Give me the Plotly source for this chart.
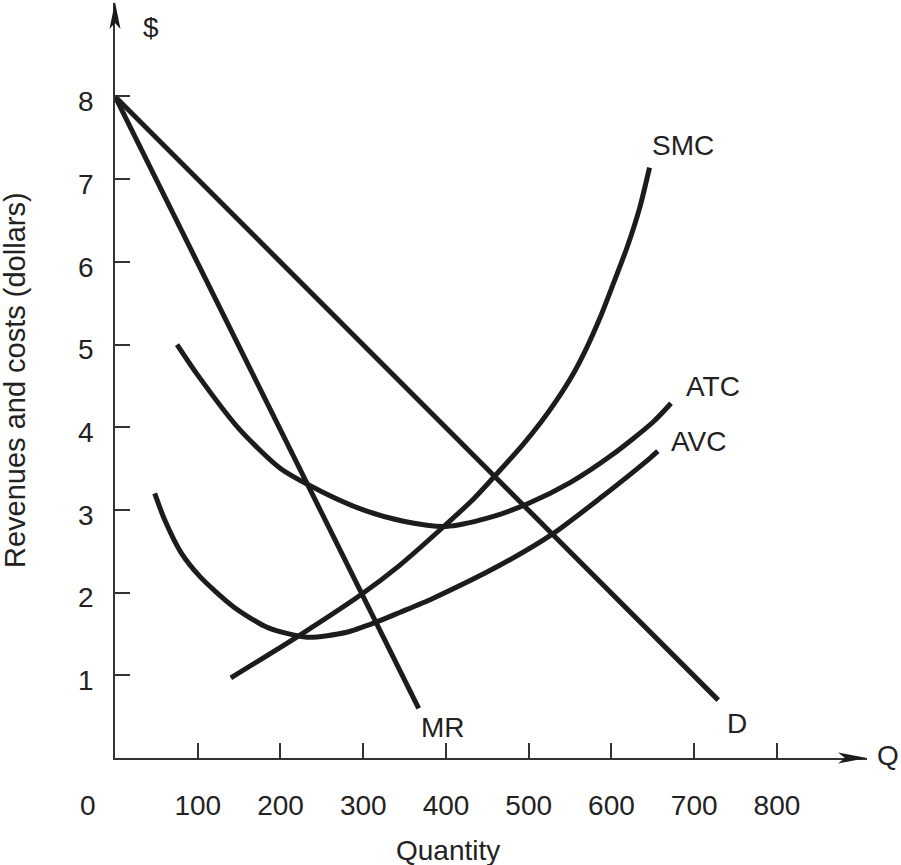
import plotly.graph_objects as go

# ---- data ----
q_D = [0, 729]
p_D = [8.0, 0.70]

q_MR = [0, 367]
p_MR = [8.0, 0.60]

q_SMC = [140, 224, 298, 344, 393, 433, 459, 493, 514, 534, 554, 570, 586, 602, 619, 634, 646]
p_SMC = [0.97, 1.49, 1.98, 2.33, 2.76, 3.13, 3.41, 3.79, 4.05, 4.33, 4.65, 4.96, 5.32, 5.73, 6.18, 6.65, 7.14]

q_ATC = [75, 100, 150, 200, 250, 300, 350, 400, 450, 500, 550, 600, 650, 672]
p_ATC = [5.00, 4.63, 3.98, 3.50, 3.22, 3.00, 2.86, 2.80, 2.90, 3.08, 3.33, 3.66, 4.06, 4.29]

q_AVC = [48, 60, 80, 103, 143, 184, 232, 280, 315, 344, 384, 465, 529, 586, 647, 656]
p_AVC = [3.20, 2.88, 2.48, 2.19, 1.83, 1.58, 1.46, 1.52, 1.64, 1.76, 1.93, 2.33, 2.71, 3.14, 3.63, 3.71]

x_ticks = [100, 200, 300, 400, 500, 600, 700, 800]
y_ticks = [1, 2, 3, 4, 5, 6, 7, 8]

curve_labels = ["SMC", "ATC", "AVC", "MR", "D"]
label_q = [686, 723, 706, 396, 752]
label_p = [7.41, 4.49, 3.83, 0.37, 0.42]

# ---- geometry of the plotting area (pixels) ----
W, H = 901, 865
L, R, T, B = 115, 34, 3, 107
PW, PH = W - L - R, H - T - B
X_MAX = 908.8
Y_MAX = 9.13

def px_x(px):
    return (px - L) / PW

def px_y(py):
    return (H - B - py) / PH

INK = "#1c1c1c"
TXT = "#222222"
FONT = "Liberation Sans, Arial, Helvetica, sans-serif"
FS = 28

fig = go.Figure()

line_style = dict(color=INK, width=5)
fig.add_trace(go.Scatter(x=q_D, y=p_D, mode="lines", line=line_style, hoverinfo="skip"))
fig.add_trace(go.Scatter(x=q_MR, y=p_MR, mode="lines", line=line_style, hoverinfo="skip"))
for qs, ps in [(q_SMC, p_SMC), (q_ATC, p_ATC), (q_AVC, p_AVC)]:
    fig.add_trace(go.Scatter(x=qs, y=ps, mode="lines",
                             line=dict(color=INK, width=5, shape="spline", smoothing=0.7),
                             hoverinfo="skip"))

tfont = dict(size=FS, color=TXT, family=FONT)
annotations = []
for t, q, p in zip(curve_labels, label_q, label_p):
    annotations.append(dict(x=q, y=p, xref="x", yref="y", text=t, showarrow=False, font=tfont,
                            xanchor="center", yanchor="middle"))

def paper_text(px, py, text, **kw):
    d = dict(x=px_x(px), y=px_y(py), xref="paper", yref="paper", text=text,
             showarrow=False, font=kw.pop("font", tfont), xanchor="center", yanchor="middle")
    d.update(kw)
    return d

# axis end labels and titles (outside the axis range -> paper coords)
annotations.append(paper_text(888, 755, "Q"))
annotations.append(paper_text(151, 27, "$"))
annotations.append(paper_text(88, 805, "0"))
annotations.append(paper_text(448, 850, "Quantity"))
annotations.append(paper_text(15, 380, "Revenues and costs (dollars)", textangle=-90,
                              font=dict(size=29, color=TXT, family=FONT)))

def arrow_path(points):
    return "M" + " L".join(f"{px_x(a):.5f},{px_y(b):.5f}" for a, b in points) + " Z"

x0p, y0p = L, H - B          # axis origin in pixels
shapes = [
    dict(type="path", xref="paper", yref="paper",
         path=arrow_path([(x0p, T - 1), (x0p - 5.5, T + 26), (x0p, T + 20), (x0p + 5.5, T + 26)]),
         fillcolor=INK, line=dict(width=0)),
    dict(type="path", xref="paper", yref="paper",
         path=arrow_path([(W - R, y0p), (W - R - 29, y0p - 5.5), (W - R - 22, y0p), (W - R - 29, y0p + 5.5)]),
         fillcolor=INK, line=dict(width=0)),
]

fig.update_layout(
    width=W, height=H, autosize=False,
    margin=dict(l=L, r=R, t=T, b=B, autoexpand=False),
    plot_bgcolor="white", paper_bgcolor="white",
    showlegend=False,
    font=dict(family=FONT, size=FS, color=TXT),
    annotations=annotations,
    shapes=shapes,
)
fig.update_xaxes(range=[0, X_MAX], tickvals=x_ticks, ticktext=[str(v) for v in x_ticks],
                 ticks="inside", ticklen=15, tickwidth=1.5, tickcolor="#333",
                 showline=True, linecolor="#333", linewidth=1.5,
                 showgrid=False, zeroline=False, automargin=False,
                 tickfont=tfont, ticklabelstandoff=22)
fig.update_yaxes(range=[0, Y_MAX], tickvals=y_ticks, ticktext=[str(v) for v in y_ticks],
                 ticks="inside", ticklen=15, tickwidth=1.5, tickcolor="#333",
                 showline=True, linecolor="#333", linewidth=1.5,
                 showgrid=False, zeroline=False, automargin=False,
                 tickfont=tfont, ticklabelstandoff=14, ticklabelshift=5)

fig.write_html("out.html",
               config={"displayModeBar": False},
               post_script="document.body.style.margin='0';document.body.style.overflow='hidden';")
